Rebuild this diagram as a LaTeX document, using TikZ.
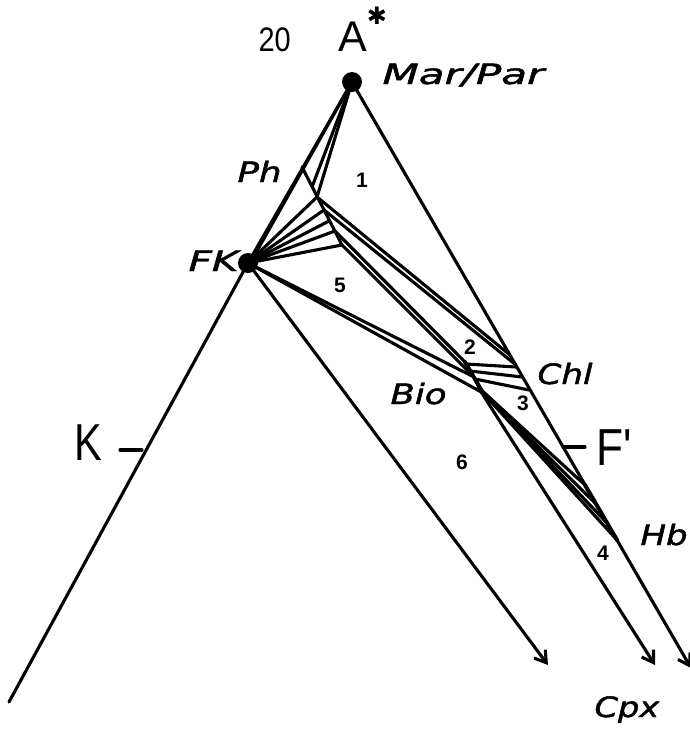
\documentclass[tikz,border=0pt]{standalone}
\usepackage{fontspec}
\setmainfont{Liberation Sans}
\newfontfamily\labfont[ItalicFeatures={FakeBold=1.5}]{DejaVu Sans}
\newfontfamily\starfont{DejaVu Sans}
\usetikzlibrary{arrows.meta}
\begin{document}
\begin{tikzpicture}[x=1pt,y=-1pt, line width=3.1pt, line cap=round, line join=round,
  lab/.style={anchor=base west, inner sep=0pt, font=\labfont\itshape\fontsize{28}{28}\selectfont},
  num/.style={inner sep=0pt, font=\bfseries\fontsize{21}{21}\selectfont},
  up/.style={anchor=base west, inner sep=0pt},
  dot/.style={circle, fill=black, inner sep=0pt, minimum size=20pt},
  arr/.style={-{Straight Barb[length=11pt,width=14pt]}}]
\useasboundingbox (0,0) rectangle (690,729);

% key points
\coordinate (A) at (352,82);
\coordinate (FK) at (248,263);
\coordinate (FKb) at (253,258);
\coordinate (Lend) at (9,702);
\coordinate (Rend) at (691,668);
\coordinate (Pa) at (302,167);
\coordinate (Px) at (312,187);
\coordinate (P2) at (317,197);
\coordinate (P3) at (324,210);
\coordinate (P4) at (329,221);
\coordinate (P5) at (335,231);
\coordinate (Pf) at (342,245);
\coordinate (C1) at (510,355);
\coordinate (C2) at (516,365);
\coordinate (Ca) at (516,367);
\coordinate (Cb) at (522,377);
\coordinate (Cc) at (529,390);
\coordinate (B1) at (465,362);
\coordinate (B2) at (469,372);
\coordinate (Bm) at (472,376);
\coordinate (B3) at (478,387);
\coordinate (B4) at (483,393);
\coordinate (H1) at (585,485);
\coordinate (H2) at (595,503);
\coordinate (H3) at (606,522);
\coordinate (H4) at (617,540);
\coordinate (X1) at (548,665);
\coordinate (X2) at (655,665);
\coordinate (Kt) at (142,450);
\coordinate (Kt2) at (120,450);
\coordinate (Ft) at (563,447);
\coordinate (Ft2) at (585,447);

% outer edges
\draw (A) -- (FK) -- (Lend);
\draw[arr] (A) -- (Rend);
\draw (Kt) -- (Kt2);
\draw (Ft) -- (Ft2);

% lines from A
\draw (A) -- (FKb);
\draw (A) -- (Px);
\draw (A) -- (P2);

% Ph solid solution and fan to FK
\draw (Pa) -- (Pf);
\foreach \p in {P2,P3,P4,P5,Pf} \draw (FK) -- (\p);

% Ph - Chl
\draw (P2) -- (C1);
\draw (P3) -- (C2);
% Ph - Bio
\draw (P5) -- (B1);
\draw (Pf) -- (B2);
% FK - Bio
\draw (FK) -- (Bm);
\draw (FK) -- (B4);
% Bio segment
\draw[line width=4pt] (B1) -- (B4);
% Bio - Chl
\draw (466,364) -- (Ca);
\draw (470,371) -- (Cb);
\draw (475,379) -- (Cc);
% Bio - Hb
\draw (B3) -- (H1);
\draw (480,389) -- (H2);
\draw (482,391) -- (H3);
\draw (B4) -- (H4);
\draw[line width=4pt] (H1) -- (H4);
% to Cpx
\draw[arr] (FK) -- (X1);
\draw[arr] (B3) -- (X2);

% dots
\node[dot] (Ad) at (A) {};
\node[dot] (FKd) at (FK) {};

% labels
\node[up, font=\fontsize{34}{34}\selectfont] (t20) at (257,51) {\scalebox{0.85}[1]{20}};
\node[up, font=\fontsize{43}{43}\selectfont] (tA) at (337,51) {A};
\node[inner sep=0pt, font=\starfont\fontsize{24}{24}\selectfont] (tS) at (377,16) {✱};
\node[lab] (tMar) at (381,84) {\scalebox{1.5}[1]{Mar/Par}};
\node[lab] (tPh) at (236,182) {\scalebox{1.27}[1]{Ph}};
\node[lab] (tFK) at (187,271) {\scalebox{1.45}[1]{FK}};
\node[lab] (tChl) at (536,384) {\scalebox{1.22}[1]{Chl}};
\node[lab] (tBio) at (389,404) {\scalebox{1.27}[1]{Bio}};
\node[lab] (tHb) at (639,545) {\scalebox{1.21}[1]{Hb}};
\node[lab] (tCpx) at (593,717) {\scalebox{1.2}[1]{Cpx}};
\node[up, font=\fontsize{52}{52}\selectfont] (tK) at (73,460) {\scalebox{0.8}[1]{K}};
\node[up, font=\fontsize{52}{52}\selectfont] (tF) at (595,465) {\scalebox{0.85}[1]{F\textquotesingle}};

\node[num] (n1) at (362,180) {1};
\node[num] (n2) at (470,347) {2};
\node[num] (n3) at (523,403) {3};
\node[num] (n4) at (603,553) {4};
\node[num] (n5) at (340,285) {5};
\node[num] (n6) at (462,462) {6};
\end{tikzpicture}
\end{document}
